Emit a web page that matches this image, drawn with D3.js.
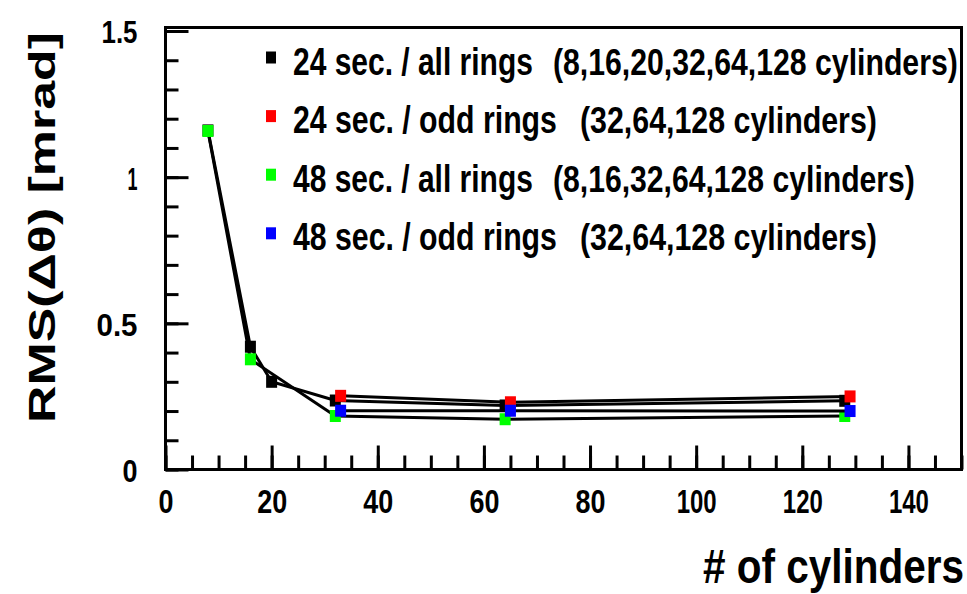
<!DOCTYPE html>
<html><head><meta charset="utf-8">
<script src="https://cdn.jsdelivr.net/npm/d3@7"></script>
<style>
body{margin:0;background:#fff}
svg{display:block}
text{font-family:"Liberation Sans",Arial,Helvetica,sans-serif;font-weight:bold;fill:#000}
</style>
</head><body><svg id="c" width="967" height="594"></svg>
<script>
// ---- data ----
const seriesNames = ["24 sec. / all rings","24 sec. / odd rings","48 sec. / all rings","48 sec. / odd rings"];
const seriesNotes = ["(8,16,20,32,64,128 cylinders)","(32,64,128 cylinders)","(8,16,32,64,128 cylinders)","(32,64,128 cylinders)"];
const seriesColors = ["#000000","#ff0000","#00ff00","#0000ff"];
const cyl24All = [8,16,20,32,64,128];
const rms24All = [1.16,0.42,0.30,0.236,0.219,0.235];
const cyl24Odd = [33,65,129];
const rms24Odd = [0.252,0.23,0.25];
const cyl48All = [8,16,32,64,128];
const rms48All = [1.158,0.377,0.183,0.172,0.183];
const cyl48Odd = [33,65,129];
const rms48Odd = [0.201,0.201,0.2];
const xTicks = [0,20,40,60,80,100,120,140];
const yTicks = [0,0.5,1,1.5];
const xTitle = "# of cylinders";
const yTitle = "RMS(\u0394\u03b8) [mrad]";

// ---- layout ----
const svg = d3.select("#c");
const L = 165.5, R = 961.5, T = 27.5, B = 469.5;
const x = d3.scaleLinear().domain([0,150]).range([L,R]);
const y = d3.scaleLinear().domain([0,1.512]).range([B,T]);

const series = [
  {xs:cyl24All, ys:rms24All},
  {xs:cyl24Odd, ys:rms24Odd},
  {xs:cyl48All, ys:rms48All},
  {xs:cyl48Odd, ys:rms48Odd}
].map((s,i)=>({pts:s.xs.map((v,j)=>[v,s.ys[j]]), color:seriesColors[i]}));

function labelWidth(s){
  let w=0; for(const c of s){ w += c==='1'?10:(c==='.'?11:15); } return w;
}
// horizontally condense a text placed at (ax,ay) to the given width
function placeText(parent, str, ax, ay, size, width, anchor, rot){
  const g = parent.append("g");
  const t = g.append("text").attr("x",0).attr("y",0).attr("font-size",size)
    .attr("text-anchor",anchor||"start").text(str);
  const nat = t.node().getComputedTextLength();
  const sx = width/nat;
  g.attr("transform",`translate(${ax},${ay})${rot?` rotate(${rot})`:""} scale(${sx},1)`);
  return g;
}
function condenseTicks(g, xOff){
  g.selectAll("text").each(function(d){
    const t = d3.select(this);
    const nat = this.getComputedTextLength();
    const sx = labelWidth(String(d))/nat;
    t.attr("transform",`scale(${sx},1)`);
    if(xOff) t.attr("x", xOff/sx);
  });
}

// minor ticks
svg.append("g").attr("transform",`translate(${L},0)`)
  .call(d3.axisLeft(y).tickValues(d3.range(0,1.51,0.1)).tickSizeInner(-13).tickSizeOuter(0).tickFormat(""))
  .call(g=>g.select(".domain").remove())
  .call(g=>g.selectAll("line").attr("stroke","#000").attr("stroke-width",3));
svg.append("g").attr("transform",`translate(0,${B})`)
  .call(d3.axisBottom(x).tickValues(d3.range(0,151,5)).tickSizeInner(-14).tickSizeOuter(0).tickFormat(""))
  .call(g=>g.select(".domain").remove())
  .call(g=>g.selectAll("line").attr("stroke","#000").attr("stroke-width",3));

// major ticks + labels
svg.append("g").attr("transform",`translate(${L},0)`)
  .call(d3.axisLeft(y).tickValues(yTicks).tickSizeInner(-23).tickSizeOuter(0).tickPadding(28).tickFormat(d=>String(d)))
  .call(g=>g.select(".domain").remove())
  .call(g=>g.selectAll("line").attr("stroke","#000").attr("stroke-width",3))
  .call(g=>g.selectAll("text").attr("font-size",32).attr("dy","0.37em").attr("fill","#000"))
  .call(g=>condenseTicks(g,-28));
svg.append("g").attr("transform",`translate(0,${B})`)
  .call(d3.axisBottom(x).tickValues(xTicks).tickSizeInner(-24).tickSizeOuter(0).tickFormat(d=>String(d)))
  .call(g=>g.select(".domain").remove())
  .call(g=>g.selectAll("line").attr("stroke","#000").attr("stroke-width",3))
  .call(g=>g.selectAll("text").attr("font-size",33).attr("y",44).attr("dy",null).attr("fill","#000"))
  .call(g=>condenseTicks(g,0));

// frame
svg.append("rect").attr("x",L).attr("y",T).attr("width",R-L).attr("height",B-T)
  .attr("fill","none").attr("stroke","#000").attr("stroke-width",3);

// series: line then markers
const line = d3.line().x(d=>x(d[0])).y(d=>y(d[1]));
series.forEach(s=>{
  svg.append("path").attr("d",line(s.pts)).attr("fill","none").attr("stroke","#000").attr("stroke-width",3);
  svg.append("g").selectAll("rect").data(s.pts).join("rect")
    .attr("x",d=>x(d[0])-5.5).attr("y",d=>y(d[1])-6).attr("width",11).attr("height",12)
    .attr("fill",s.color);
});

// legend
const legY0 = 74.5, legDY = 58.6;
const nameW = [240,264,240,264];
const noteX = [553,580,553,580];
const noteW = [405,297,362,297];
seriesNames.forEach((n,i)=>{
  const by = legY0 + i*legDY;
  svg.append("rect").attr("x",266).attr("y",by-23).attr("width",10).attr("height",12).attr("fill",seriesColors[i]);
  placeText(svg, n, 293, by, 39, nameW[i], "start");
  placeText(svg, seriesNotes[i], noteX[i], by, 37, noteW[i], "start");
});

// axis titles
placeText(svg, xTitle, 964, 583, 48, 261, "end");
placeText(svg, yTitle, 55, 227.5, 37, 391, "middle", -90);
</script>
</body></html>
